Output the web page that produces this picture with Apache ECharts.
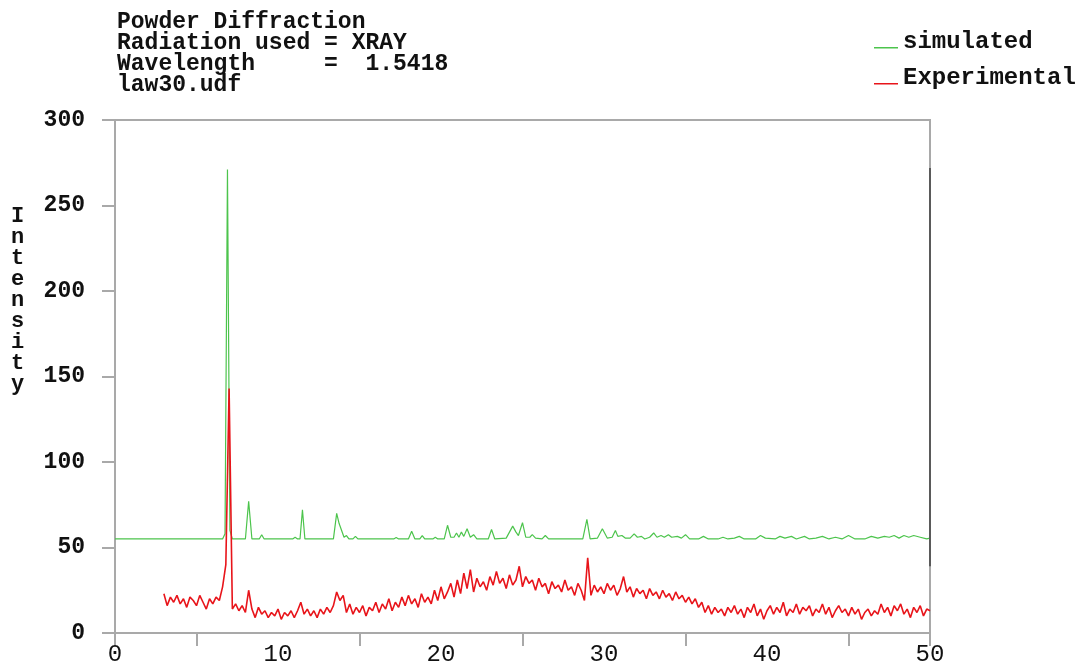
<!DOCTYPE html>
<html>
<head>
<meta charset="utf-8">
<script src="https://cdn.jsdelivr.net/npm/echarts@6/dist/echarts.min.js"></script>
<style>
  html, body { margin: 0; padding: 0; background: #fff; }
  #main { width: 1080px; height: 668px; }
</style>
</head>
<body>
<div id="main"></div>
<script>
// title block lines
var titleLines = [
  'Powder Diffraction',
  'Radiation used = XRAY',
  'Wavelength     =  1.5418',
  'law30.udf'
];
var seriesNames = ['simulated', 'Experimental'];
var xTickLabels = [0, 10, 20, 30, 40, 50];
var xTickMarks = [0, 5, 15, 25, 35, 45, 50];

// simulated pattern, [2theta, intensity]
var simulated = [
  [0, 55], [6.6, 55], [6.75, 58], [6.9, 271], [7.05, 60], [7.2, 55], [8.0, 55], [8.2, 77], [8.4, 55],
  [8.85, 55], [9.0, 57.5], [9.15, 55], [10.9, 55], [11.05, 56], [11.2, 55], [11.35, 55], [11.5, 72],
  [11.65, 55], [13.4, 55], [13.6, 70], [13.75, 64], [13.85, 65], [14.05, 56], [14.2, 57], [14.35, 55],
  [14.6, 55], [14.75, 56.5], [14.9, 55], [17.1, 55], [17.25, 55.8], [17.4, 55], [18.0, 55], [18.2, 59.5],
  [18.4, 55], [18.7, 55], [18.85, 57], [19.0, 55], [19.5, 55], [19.65, 56], [19.8, 55], [20.2, 55],
  [20.4, 63], [20.6, 56], [20.8, 56], [20.95, 58.5], [21.1, 56], [21.25, 59], [21.4, 56.5], [21.6, 61],
  [21.8, 56], [22.0, 57.5], [22.2, 55], [22.9, 55], [23.1, 60.5], [23.3, 55], [24.0, 55.5], [24.4, 62.5],
  [24.6, 59], [24.75, 57], [25.0, 64.5], [25.2, 56], [25.45, 56], [25.6, 57.5], [25.8, 55.5], [26.2, 55],
  [26.4, 57], [26.6, 55], [28.7, 55], [28.95, 66.5], [29.15, 55], [29.6, 55.5], [29.9, 61], [30.2, 55.5],
  [30.5, 56], [30.7, 60], [30.85, 56.5], [31.1, 57], [31.3, 55.5], [31.6, 55.5], [31.85, 58], [32.05, 56],
  [32.3, 56.5], [32.5, 55], [32.8, 56], [33.05, 58.5], [33.25, 56], [33.5, 57], [33.7, 56], [33.95, 57.5],
  [34.15, 56], [34.5, 56.5], [34.75, 55.5], [35.0, 57.5], [35.25, 55], [35.8, 55], [36.1, 56.5], [36.4, 55],
  [37.0, 55], [37.3, 56], [37.6, 55], [38.0, 55.5], [38.3, 56.5], [38.6, 55], [39.3, 55], [39.6, 57],
  [39.9, 55.5], [40.5, 55], [40.8, 56.5], [41.1, 55.5], [41.5, 56.5], [41.8, 55], [42.3, 56.5], [42.6, 55],
  [43.0, 55.5], [43.4, 56.5], [43.8, 55], [44.2, 56], [44.6, 55], [45.0, 57], [45.4, 55], [46.0, 55],
  [46.4, 56.5], [46.8, 55.5], [47.2, 56.5], [47.5, 56], [47.8, 57], [48.1, 55.5], [48.4, 57], [48.7, 56],
  [49.0, 57], [49.4, 56], [49.8, 55], [50, 55.5]
];

// experimental pattern, sampled every 0.2 deg from 3.0
var expStart = 3.0;
var expStep = 0.2;
var experimental = [
  23, 16, 21, 18, 22, 17, 20, 15, 21, 19,
  16, 22, 18, 14, 20, 17, 21, 19, 27, 40,
  143, 14, 17, 13, 16, 12, 25, 14, 9, 15,
  11, 13, 9, 12, 10, 14, 8, 12, 10, 13,
  9, 13, 18, 11, 14, 10, 13, 9, 14, 11,
  15, 12, 16, 24, 19, 22, 12, 17, 11, 15,
  12, 16, 10, 15, 13, 18, 12, 17, 14, 20,
  13, 18, 15, 21, 16, 22, 17, 20, 15, 23,
  18, 21, 17, 25, 19, 27, 20, 24, 29, 21,
  31, 23, 35, 26, 37, 24, 32, 27, 30, 25,
  33, 28, 36, 29, 32, 26, 34, 28, 31, 39,
  27, 33, 29, 31, 25, 32, 27, 29, 23, 30,
  26, 28, 24, 31, 25, 27, 22, 29, 25, 19,
  44, 22, 28, 24, 27, 23, 29, 25, 28, 22,
  26, 33, 24, 27, 21, 26, 23, 25, 20, 26,
  22, 24, 20, 25, 21, 23, 19, 24, 20, 22,
  18, 21, 17, 20, 15, 18, 12, 16, 11, 15,
  12, 14, 10, 15, 12, 16, 11, 14, 9, 15,
  12, 17, 10, 14, 8, 13, 16, 11, 15, 12,
  18, 10, 14, 12, 17, 11, 15, 13, 16, 10,
  14, 12, 17, 11, 15, 9, 13, 16, 12, 14,
  10, 15, 11, 14, 8, 12, 14, 10, 13, 11,
  17, 12, 15, 10, 16, 13, 17, 11, 14, 9,
  15, 12, 16, 10, 14, 13
];

// dark stroke on the right frame
var edgeLine = [[50, 39], [50, 272]];

var expData = experimental.map(function (v, i) {
  return [+(expStart + i * expStep).toFixed(2), v];
});

var font = '"Liberation Mono", "Courier New", monospace';
var axisGray = '#a9a9a9';
var legendIcon = 'path://M0,0 L0,24 M0,17 L24,17 L24,18.6 L0,18.6 Z';

var myChart = echarts.init(document.getElementById('main'));

myChart.setOption({
  backgroundColor: '#fff',
  animation: false,
  grid: {
    left: 115, right: 150, top: 120, bottom: 35,
    show: true, borderColor: axisGray, borderWidth: 2
  },
  legend: {
    data: seriesNames,
    orient: 'vertical',
    left: 869, top: 25,
    itemWidth: 24, itemHeight: 24, itemGap: 12,
    icon: legendIcon,
    textStyle: { fontFamily: font, fontWeight: 'bold', fontSize: 24, color: '#111' }
  },
  graphic: [
    {
      type: 'text', left: 117, top: 11,
      style: {
        text: titleLines.join('\n'), font: 'bold 23px ' + font,
        lineHeight: 21, fill: '#111'
      }
    },
    {
      type: 'text', left: 11, top: 205,
      style: {
        text: 'Intensity'.split('').join('\n'), font: 'bold 22px ' + font,
        lineHeight: 21, fill: '#111', align: 'center'
      }
    }
  ],
  xAxis: {
    type: 'value', min: 0, max: 50, interval: 10,
    axisLine: { lineStyle: { color: axisGray, width: 2 } },
    axisTick: { show: true, length: 13, customValues: xTickMarks, lineStyle: { color: axisGray, width: 2 } },
    axisLabel: {
      customValues: xTickLabels, margin: 10,
      fontFamily: font, fontSize: 24, color: '#111'
    },
    splitLine: { show: false }
  },
  yAxis: {
    type: 'value', min: 0, max: 300, interval: 50,
    axisLine: { show: true, lineStyle: { color: axisGray, width: 2 } },
    axisTick: { show: true, length: 13, lineStyle: { color: axisGray, width: 2 } },
    axisLabel: { margin: 30, fontFamily: font, fontWeight: 'bold', fontSize: 23, color: '#111' },
    splitLine: { show: false }
  },
  series: [
    {
      name: 'simulated', type: 'line', data: simulated,
      showSymbol: false, symbol: 'none',
      lineStyle: { color: '#4cc44c', width: 1.2 }, itemStyle: { color: '#4cc44c' }
    },
    {
      name: 'Experimental', type: 'line', data: expData,
      showSymbol: false, symbol: 'none',
      lineStyle: { color: '#e8141a', width: 1.6 }, itemStyle: { color: '#e8141a' }
    },
    {
      name: 'edge', type: 'line', data: edgeLine,
      showSymbol: false, symbol: 'none', silent: true,
      lineStyle: { color: '#5a5a5a', width: 2 }
    }
  ]
});
</script>
</body>
</html>
